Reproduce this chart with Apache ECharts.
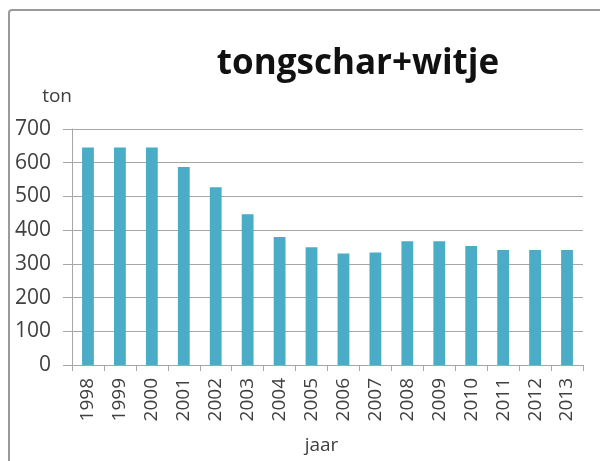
<!DOCTYPE html>
<html>
<head>
<meta charset="utf-8">
<script src="https://cdn.jsdelivr.net/npm/echarts@6/dist/echarts.min.js"></script>
<style>
  html, body { margin: 0; padding: 0; background: #ffffff; }
  #chart { width: 600px; height: 461px; }
</style>
</head>
<body>
<div id="chart"></div>
<script>
// Aanvoer tongschar + witje per jaar (ton)
const years = ['1998','1999','2000','2001','2002','2003','2004','2005','2006','2007','2008','2009','2010','2011','2012','2013'];
const tonnes = [645, 645, 645, 587, 527, 447, 380, 349, 331, 334, 367, 367, 353, 341, 341, 341];
const yTicks = [0, 100, 200, 300, 400, 500, 600, 700];

const chart = echarts.init(document.getElementById('chart'), null, { renderer: 'canvas' });

const gridColor = '#a6a6a6';
const labelFont = { fontFamily: 'Open Sans', color: '#404040' };

chart.setOption({
  animation: false,
  backgroundColor: '#ffffff',
  graphic: [{
    type: 'rect',
    shape: { x: 9, y: 10, width: 620, height: 480, r: 3 },
    style: { fill: 'none', stroke: '#9a9a9a', lineWidth: 2 },
    silent: true
  }],
  title: {
    text: 'tongschar+witje',
    left: 353,
    top: 42,
    textAlign: 'center',
    textStyle: { fontFamily: 'Open Sans', fontWeight: 'bold', fontSize: 35, color: '#111111' }
  },
  grid: { left: 72, right: 17, top: 129, bottom: 96, containLabel: false, outerBoundsMode: 'none' },
  xAxis: {
    type: 'category',
    data: years,
    name: 'jaar',
    nameLocation: 'middle',
    nameGap: 71,
    nameTextStyle: Object.assign({ fontSize: 19, padding: [0, 12, 0, 0] }, labelFont),
    axisLine: { lineStyle: { color: gridColor, width: 1 } },
    axisTick: { show: true, length: 6, alignWithLabel: false, lineStyle: { color: gridColor } },
    axisLabel: Object.assign({ rotate: 90, fontSize: 19, margin: 13, interval: 0 }, labelFont)
  },
  yAxis: {
    type: 'value',
    min: yTicks[0],
    max: yTicks[yTicks.length - 1],
    interval: 100,
    name: 'ton',
    nameLocation: 'end',
    nameGap: 23,
    nameTextStyle: Object.assign({ fontSize: 19, align: 'right', padding: [0, 0, 0, 0] }, labelFont),
    axisLine: { show: true, lineStyle: { color: gridColor, width: 1 } },
    axisTick: { show: true, length: 9, lineStyle: { color: gridColor } },
    splitLine: { show: true, lineStyle: { color: gridColor, width: 1 } },
    axisLabel: Object.assign({ fontSize: 21, margin: 21 }, labelFont)
  },
  series: [{
    type: 'bar',
    data: tonnes,
    barWidth: '37%',
    itemStyle: { color: '#4bacc6' }
  }]
});
</script>
</body>
</html>
